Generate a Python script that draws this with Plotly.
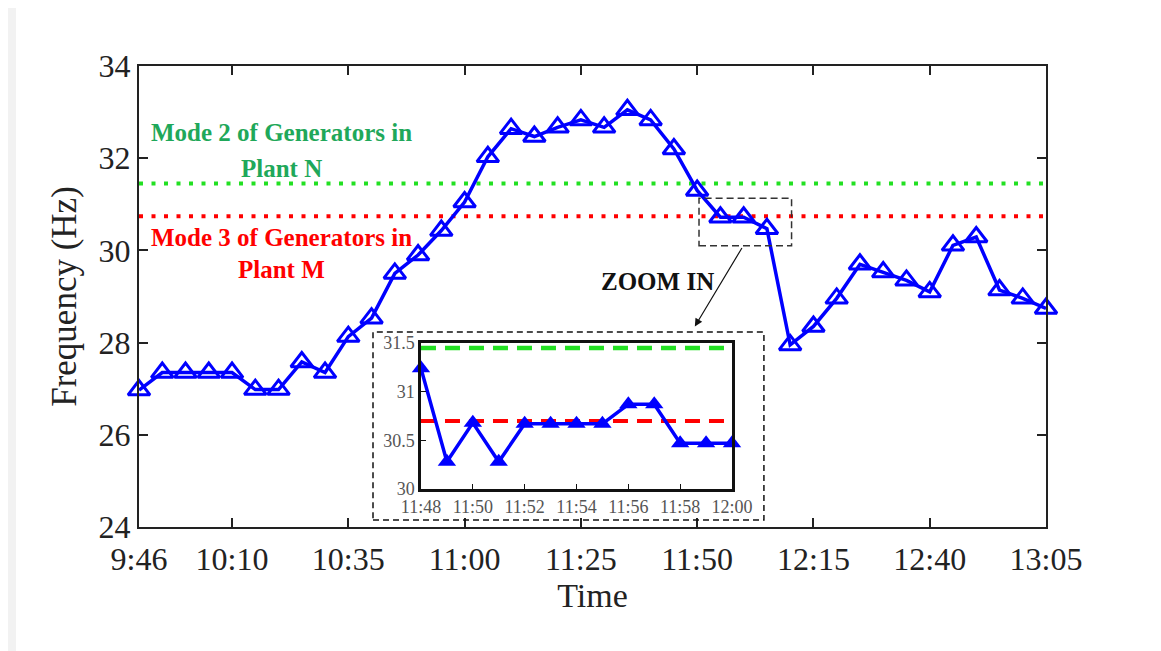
import plotly.graph_objects as go

# ---------------- data ----------------
main_idx = list(range(40))
main_freq = [26.97, 27.35, 27.35, 27.35, 27.35, 26.98, 26.98, 27.58, 27.35, 28.13,
             28.53, 29.50, 29.90, 30.43, 31.05, 32.03, 32.64, 32.47, 32.67, 32.83,
             32.67, 33.05, 32.83, 32.20, 31.30, 30.72, 30.72, 30.47, 27.95, 28.35,
             28.96, 29.70, 29.53, 29.35, 29.10, 30.11, 30.29, 29.14, 28.96, 28.74]
main_tick_pos = [0, 4, 9, 14, 19, 24, 29, 34, 39]
main_tick_text = ["9:46", "10:10", "10:35", "11:00", "11:25", "11:50", "12:15", "12:40", "13:05"]
main_y_ticks = [24, 26, 28, 30, 32, 34]

zoom_idx = list(range(13))
zoom_freq = [31.24, 30.28, 30.68, 30.28, 30.67, 30.67, 30.67, 30.67, 30.87, 30.87, 30.47, 30.47, 30.47]
zoom_tick_pos = [0, 2, 4, 6, 8, 10, 12]
zoom_tick_text = ["11:48", "11:50", "11:52", "11:54", "11:56", "11:58", "12:00"]
zoom_y_ticks = [30, 30.5, 31, 31.5]
zoom_y_text = ["30", "30.5", "31", "31.5"]

mode2_N = 31.45
mode3_M = 30.74
mode3_M_zoom = 30.70

BLUE = "#0000ff"
GREEN_LINE = "#22e022"
RED_LINE = "#ff0000"
GREEN_TXT = "#1fa85a"
SERIF = "Liberation Serif, Times New Roman, serif"

fig = go.Figure()

# reference lines (main)
fig.add_trace(go.Scatter(x=[0, 39], y=[mode2_N, mode2_N], mode="lines",
                         line=dict(color=GREEN_LINE, width=4, dash="4px,8.5px"),
                         xaxis="x", yaxis="y", showlegend=False, hoverinfo="skip"))
fig.add_trace(go.Scatter(x=[0, 39], y=[mode3_M, mode3_M], mode="lines",
                         line=dict(color=RED_LINE, width=4, dash="4px,8.5px"),
                         xaxis="x", yaxis="y", showlegend=False, hoverinfo="skip"))
# main series
fig.add_trace(go.Scatter(x=main_idx, y=main_freq, mode="lines+markers",
                         line=dict(color=BLUE, width=3.5),
                         marker=dict(symbol="triangle-up-open", size=19, color=BLUE,
                                     line=dict(color=BLUE, width=3)),
                         cliponaxis=False, xaxis="x", yaxis="y", showlegend=False))

# inset reference lines
fig.add_trace(go.Scatter(x=[0, 12], y=[mode2_N, mode2_N], mode="lines",
                         line=dict(color=GREEN_LINE, width=4.5, dash="15px,9px"),
                         xaxis="x2", yaxis="y2", showlegend=False, hoverinfo="skip"))
fig.add_trace(go.Scatter(x=[0, 12], y=[mode3_M_zoom, mode3_M_zoom], mode="lines",
                         line=dict(color=RED_LINE, width=4, dash="15px,9px"),
                         xaxis="x2", yaxis="y2", showlegend=False, hoverinfo="skip"))
# inset series
fig.add_trace(go.Scatter(x=zoom_idx, y=zoom_freq, mode="lines+markers",
                         line=dict(color=BLUE, width=3.5),
                         marker=dict(symbol="triangle-up", size=16, color=BLUE),
                         cliponaxis=False, xaxis="x2", yaxis="y2", showlegend=False))

axis_common = dict(showline=True, mirror="ticks", linecolor="#222", linewidth=2,
                   ticks="inside", ticklen=9, tickcolor="#222", tickwidth=1.5,
                   showgrid=False, zeroline=False)

fig.update_layout(
    width=1161, height=651,
    margin=dict(l=131, r=123, t=58, b=132),
    paper_bgcolor="#f2f2f2", plot_bgcolor="white",
    font=dict(family=SERIF, color="#222"),
    xaxis=dict(range=[0, 39], tickvals=main_tick_pos, ticktext=main_tick_text,
               tickfont=dict(size=32, family=SERIF, color="#222"), ticklabelstandoff=3,
               title=dict(text="Time", font=dict(size=34, family=SERIF, color="#222"), standoff=5),
               **axis_common),
    yaxis=dict(range=[24, 34], tickvals=main_y_ticks,
               tickfont=dict(size=32, family=SERIF, color="#222"),
               title=dict(text="Frequency (Hz)", font=dict(size=35, family=SERIF, color="#222"), standoff=11),
               **axis_common),
    xaxis2=dict(domain=[0.3109, 0.6538], anchor="y2", range=[0, 12],
                tickvals=zoom_tick_pos, ticktext=zoom_tick_text,
                tickfont=dict(size=18, family=SERIF, color="#555"),
                showline=True, mirror=True, linecolor="#111", linewidth=2.5,
                ticks="inside", ticklen=5, tickcolor="#111",
                showgrid=False, zeroline=False),
    yaxis2=dict(domain=[0.0824, 0.399], anchor="x2", range=[30, 31.5],
                tickvals=zoom_y_ticks, ticktext=zoom_y_text,
                tickfont=dict(size=18, family=SERIF, color="#555"),
                showline=True, mirror=True, linecolor="#111", linewidth=2.5,
                ticks="inside", ticklen=5, tickcolor="#111",
                showgrid=False, zeroline=False),
    shapes=[
        # white figure area
        dict(type="rect", xref="paper", yref="paper", x0=-0.1356, x1=1.1246, y0=-0.30, y1=1.1323,
             fillcolor="white", line=dict(width=0), layer="below"),
        # outer dashed box around inset
        dict(type="rect", xref="paper", yref="paper", x0=0.258, x1=0.689, y0=0.0152, y1=0.423,
             line=dict(color="#111", width=1.5, dash="6px,4px"), fillcolor="rgba(0,0,0,0)"),
        # small dashed box on the main curve
        dict(type="rect", xref="x", yref="y", x0=24.08, x1=28.06, y0=30.10, y1=31.13,
             line=dict(color="#333", width=1.5, dash="7px,4px"), fillcolor="rgba(0,0,0,0)"),
    ],
    annotations=[
        dict(xref="paper", yref="paper", x=0.1566, y=0.8547, xanchor="center", yanchor="middle",
             text="<b>Mode 2 of Generators in</b>",
             showarrow=False, font=dict(size=25, family=SERIF, color=GREEN_TXT)),
        dict(xref="paper", yref="paper", x=0.1566, y=0.7787, xanchor="center", yanchor="middle",
             text="<b>Plant N</b>",
             showarrow=False, font=dict(size=25, family=SERIF, color=GREEN_TXT)),
        dict(xref="paper", yref="paper", x=0.1566, y=0.629, xanchor="center", yanchor="middle",
             text="<b>Mode 3 of Generators in</b>",
             showarrow=False, font=dict(size=25, family=SERIF, color="#ff0000")),
        dict(xref="paper", yref="paper", x=0.1566, y=0.5575, xanchor="center", yanchor="middle",
             text="<b>Plant M</b>",
             showarrow=False, font=dict(size=25, family=SERIF, color="#ff0000")),
        dict(xref="paper", yref="paper", x=(657 - 139) / 907, y=(527 - 281) / 461,
             xanchor="center", yanchor="middle", text="<b>ZOOM IN</b>",
             showarrow=False, font=dict(size=25, family=SERIF, color="#111")),
        dict(xref="x", yref="y", x=23.9, y=28.35, text="", showarrow=True,
             ax=48, ay=-80, arrowhead=2, arrowsize=1.3, arrowwidth=1.2, arrowcolor="#111"),
    ],
)

fig.write_html("out.html")
